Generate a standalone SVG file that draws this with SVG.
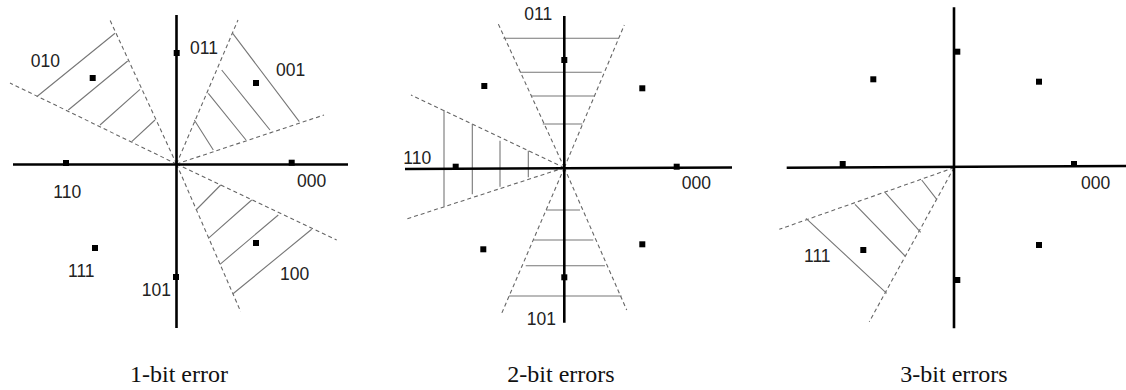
<svg xmlns="http://www.w3.org/2000/svg" width="1126" height="390" viewBox="0 0 1126 390">
<style>
.axis{stroke:#000;stroke-width:2.6;fill:none;stroke-linecap:butt}
.dash{stroke:#666;stroke-width:1.1;stroke-dasharray:4 3;fill:none}
.hatch{stroke:#777;stroke-width:1.1;fill:none}
.pt{fill:#000}
.lbl{font-family:"Liberation Sans",Arial,sans-serif;font-size:17.5px;fill:#222}
.cap{font-family:"Liberation Serif","Times New Roman",serif;font-size:24px;fill:#111;text-anchor:middle}
</style>
<defs>
<rect id="sq" x="-3" y="-3" width="6" height="6" class="pt"/>
</defs>
<g id="panel1">
<g id="p1-connectors">
<path class="dash" d="M176.5,164 L10,83 M176.5,164 L109,18 M176.5,164 L238,20 M176.5,164 L324,115 M176.5,164 L336.7,240 M176.5,164 L240.7,311.7"/>
<path class="hatch" d="M36.7,96.7 L115,33.3 M68.3,110 L127.7,61 M100,125 L140,89.3 M131.7,141.7 L155,120"/>
<path class="hatch" d="M232.7,33.3 L299.3,121.7 M221.7,70 L270,130 M208.3,93.3 L246,140 M194.3,120 L213.3,150"/>
<path class="hatch" d="M220.7,185 L196,210 M251.7,200 L208.3,238.3 M278.3,215 L220,264.3 M311.7,229.3 L232.7,294"/>
<line class="axis" x1="176.5" y1="15" x2="176.5" y2="328"/>
<line class="axis" x1="13" y1="164.5" x2="348" y2="164.5"/>
</g>
<g id="p1-000"><use href="#sq" x="291.7" y="162.7"/><text class="lbl" x="297" y="187">000</text></g>
<g id="p1-001"><use href="#sq" x="256" y="83"/><text class="lbl" x="276" y="76">001</text></g>
<g id="p1-011"><use href="#sq" x="176.7" y="53"/><text class="lbl" x="190" y="54">011</text></g>
<g id="p1-010"><use href="#sq" x="92.7" y="78"/><text class="lbl" x="30.7" y="66.7">010</text></g>
<g id="p1-110"><use href="#sq" x="66" y="163"/><text class="lbl" x="53.3" y="198">110</text></g>
<g id="p1-111"><use href="#sq" x="95" y="248"/><text class="lbl" x="68" y="277">111</text></g>
<g id="p1-101"><use href="#sq" x="176" y="277"/><text class="lbl" x="141.7" y="296">101</text></g>
<g id="p1-100"><use href="#sq" x="256" y="243"/><text class="lbl" x="280" y="280">100</text></g>
<text class="cap" x="179" y="382">1-bit error</text>
</g>
<g id="panel2">
<g id="p2-connectors">
<path class="dash" d="M564.3,167.7 L498.3,24 M564.3,167.7 L624.3,25 M564.3,167.7 L501.7,313.3 M564.3,167.7 L626.7,310 M564.3,167.7 L411,95 M564.3,167.7 L405.7,219.3"/>
<path class="hatch" d="M503.3,38.3 L619,38.3 M520,72.3 L601.7,72.3 M531,96 L595,96 M542.7,124 L582.3,124"/>
<path class="hatch" d="M546,210 L580,210 M533.3,240 L593.3,240 M525.7,265.7 L605,265.7 M509,296 L621.7,296"/>
<path class="hatch" d="M444,110 L444,206.7 M472.3,124 L472.3,194.3 M500,140.7 L500,186.7 M528.3,150.7 L528.3,177.3"/>
<line class="axis" x1="564.3" y1="16" x2="564.3" y2="322.7"/>
<line class="axis" x1="405" y1="169" x2="732" y2="167.5"/>
</g>
<g id="p2-011"><use href="#sq" x="564.3" y="60"/><text class="lbl" x="524.3" y="20">011</text></g>
<g id="p2-010"><use href="#sq" x="484.3" y="86"/></g>
<g id="p2-001"><use href="#sq" x="642.3" y="88.3"/></g>
<g id="p2-110"><use href="#sq" x="455.7" y="166.7"/><text class="lbl" x="403.3" y="164">110</text></g>
<g id="p2-000"><use href="#sq" x="676.7" y="166.7"/><text class="lbl" x="681.7" y="189">000</text></g>
<g id="p2-111"><use href="#sq" x="483.3" y="249.3"/></g>
<g id="p2-100"><use href="#sq" x="642.3" y="244.3"/></g>
<g id="p2-101"><use href="#sq" x="564.3" y="277.3"/><text class="lbl" x="526.7" y="325">101</text></g>
<text class="cap" x="561" y="382">2-bit errors</text>
</g>
<g id="panel3">
<g id="p3-connectors">
<path class="dash" d="M954,167.7 L779.3,229.3 M954,167.7 L869.3,321.7"/>
<path class="hatch" d="M921.7,180 L936.7,199.3 M885,192.3 L920.7,232.3 M855,204.3 L905,256 M806,218.3 L886.7,293.3"/>
<line class="axis" x1="954" y1="7.3" x2="954" y2="328.3"/>
<line class="axis" x1="786.7" y1="167.7" x2="1126" y2="166"/>
</g>
<g id="p3-011"><use href="#sq" x="957.3" y="51.7"/></g>
<g id="p3-010"><use href="#sq" x="873.3" y="79.3"/></g>
<g id="p3-001"><use href="#sq" x="1039" y="81.7"/></g>
<g id="p3-110"><use href="#sq" x="842.7" y="164"/></g>
<g id="p3-000"><use href="#sq" x="1074" y="164"/><text class="lbl" x="1081" y="189.3">000</text></g>
<g id="p3-111"><use href="#sq" x="863.3" y="250"/><text class="lbl" x="804" y="261.7">111</text></g>
<g id="p3-100"><use href="#sq" x="1039" y="245"/></g>
<g id="p3-101"><use href="#sq" x="957.3" y="280"/></g>
<text class="cap" x="954" y="382">3-bit errors</text>
</g>
</svg>
